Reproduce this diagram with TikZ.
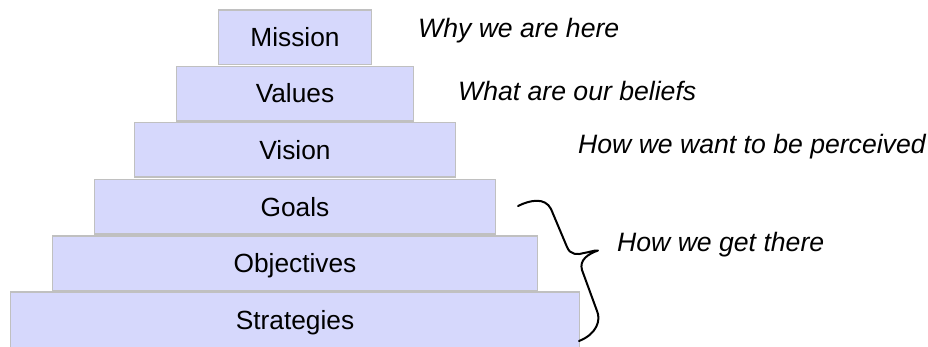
\documentclass[tikz,border=0pt]{standalone}
\usepackage{fontspec}
\setmainfont{Liberation Sans}
\definecolor{tierfill}{RGB}{214,216,252}
\definecolor{tierline}{RGB}{192,192,192}
\tikzset{
  tier/.style={draw=tierline, fill=tierfill, line width=1.5pt, rectangle,
    inner sep=0pt, minimum height=54.5pt, text height=18.8pt, text depth=0pt,
    font=\fontsize{26.3}{30}\selectfont, text=black},
  note/.style={anchor=base west, inner sep=0pt, font=\fontsize{26.6}{30}\selectfont\itshape, text=black},
  bracepath/.style={draw=black, line width=2pt, line cap=round, line join=round}
}
\begin{document}
\begin{tikzpicture}[x=1pt,y=-1pt]
\useasboundingbox (0,0) rectangle (928,347);
\clip (0,0) rectangle (928,347);
\node[tier, minimum width=153pt] (mission) at (295,37.2) {Mission};
\node[tier, minimum width=237pt] (values) at (295,93.6) {Values};
\node[tier, minimum width=321pt] (vision) at (295,150) {Vision};
\node[tier, minimum width=401pt] (goals) at (295,206.8) {Goals};
\node[tier, minimum width=485pt] (objectives) at (295,263.2) {Objectives};
\node[tier, minimum width=569pt, minimum height=58pt, text height=0pt] (strategies) at (295,321) {};
\node[anchor=base, inner sep=0pt, font=\fontsize{26.3}{30}\selectfont] (strategiestext) at (295,329) {Strategies};
\node[note] (why) at (418,38) {Why we are here};
\node[note] (what) at (458,100.5) {What are our beliefs};
\node[note] (how) at (578,154) {How we want to be perceived};
\node[note] (get) at (617,251.5) {How we get there};
\coordinate (bstart) at (518,206);
\coordinate (btip) at (598,250.5);
\coordinate (bend) at (579,341);
\draw[bracepath] (bstart) .. controls (530,200) and (545,197) .. (551,209)
  -- (567,247) .. controls (570,255) and (578,255) .. (584,253)
  .. controls (590,252) and (595,250) .. (btip)
  .. controls (588,254) and (579,260) .. (582,270)
  -- (597,311) .. controls (601,320) and (597,334) .. (bend);
\end{tikzpicture}
\end{document}
